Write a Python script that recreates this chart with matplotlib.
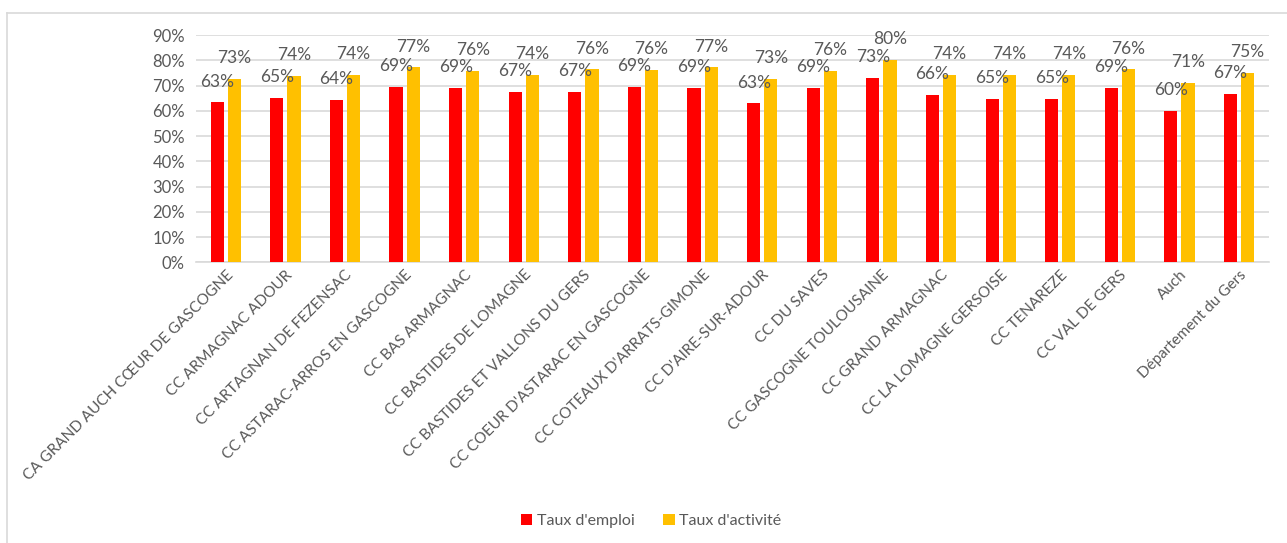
import matplotlib.pyplot as plt
import numpy as np
from matplotlib.lines import Line2D
from matplotlib.ticker import PercentFormatter

# Data
territoires = ["CA GRAND AUCH CŒUR DE GASCOGNE", "CC ARMAGNAC ADOUR", "CC ARTAGNAN DE FEZENSAC",
               "CC ASTARAC-ARROS EN GASCOGNE", "CC BAS ARMAGNAC", "CC BASTIDES DE LOMAGNE",
               "CC BASTIDES ET VALLONS DU GERS", "CC COEUR D'ASTARAC EN GASCOGNE",
               "CC COTEAUX D'ARRATS-GIMONE", "CC D'AIRE-SUR-ADOUR", "CC DU SAVES",
               "CC GASCOGNE TOULOUSAINE", "CC GRAND ARMAGNAC", "CC LA LOMAGNE GERSOISE",
               "CC TENAREZE", "CC VAL DE GERS", "Auch", "Département du Gers"]
taux_emploi = [63.3, 65.2, 64.4, 69.4, 69.0, 67.4, 67.4, 69.4, 69.0, 62.9,
               69.0, 73.1, 66.2, 64.8, 64.8, 69.0, 60.0, 66.7]
taux_activite = [72.6, 73.8, 74.2, 77.2, 75.7, 74.2, 76.4, 76.1, 77.2, 72.7,
                 75.7, 80.3, 74.2, 74.2, 74.2, 76.4, 71.0, 75.1]

red = '#FF0000'
gold = '#FFC000'
grey_text = '#595959'

plt.rcParams['font.family'] = ['Lato', 'DejaVu Sans']

fig = plt.figure(figsize=(12.87, 5.43), dpi=100)
ax = fig.add_axes([0.1523, 0.517, 0.9859 - 0.1523, 0.9355 - 0.517])

x = np.arange(len(territoires))
w = 0.22
off = 0.144
b1 = ax.bar(x - off, taux_emploi, width=w, color=red, label="Taux d'emploi", zorder=3)
b2 = ax.bar(x + off, taux_activite, width=w, color=gold, label="Taux d'activité", zorder=3)

# value labels above each bar
for bars, vals in ((b1, taux_emploi), (b2, taux_activite)):
    for rect, v in zip(bars, vals):
        ax.annotate(f"{v:.0f}%", xy=(rect.get_x() + rect.get_width() / 2, v),
                    xytext=(0, 15), textcoords='offset points', ha='center', va='center',
                    fontsize=12.5, color=grey_text)

ax.set_xlim(-0.5, len(territoires) - 0.5)
ax.set_ylim(0, 90)
ax.set_yticks(np.arange(0, 91, 10))
ax.yaxis.set_major_formatter(PercentFormatter(decimals=0))
ax.grid(axis='y', color='#D9D9D9', linewidth=1.2, zorder=0)
for s in ('top', 'right', 'left'):
    ax.spines[s].set_visible(False)
ax.spines['bottom'].set_color('#D9D9D9')
ax.spines['bottom'].set_linewidth(1.2)
ax.tick_params(axis='both', length=0, colors=grey_text, pad=8)
ax.tick_params(axis='y', labelsize=12)

ax.set_xticks(x)
ax.set_xticklabels(territoires, rotation=45, ha='right', rotation_mode='anchor', fontsize=11)
ax.tick_params(axis='x', pad=4)

fig.legend(handles=[b1, b2], loc='center', bbox_to_anchor=(0.506, 0.04), ncol=2, frameon=False,
           fontsize=11.5, handlelength=0.7, handleheight=0.7, handletextpad=0.3,
           columnspacing=1.8, labelcolor=grey_text)

# chart frame (top and left edges)
fig.add_artist(Line2D([7 / 1287, 1], [1 - 13 / 543, 1 - 13 / 543], color='#D9D9D9', lw=1.2))
fig.add_artist(Line2D([7 / 1287, 7 / 1287], [0, 1 - 13 / 543], color='#D9D9D9', lw=1.2))

plt.savefig('out.png', dpi=100, facecolor='white')
